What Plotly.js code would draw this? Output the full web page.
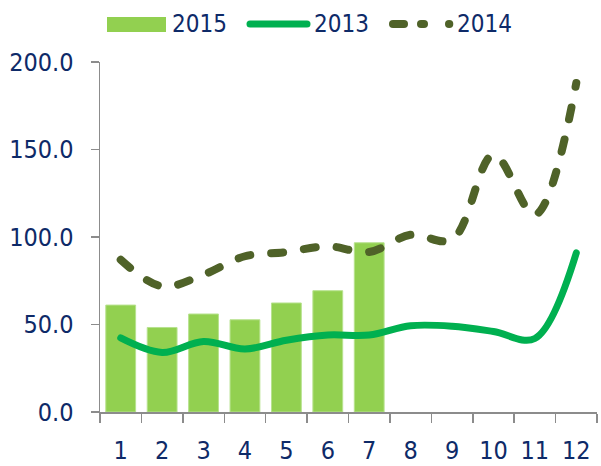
<!DOCTYPE html>
<html>
<head>
<meta charset="utf-8">
<script src="https://cdn.plot.ly/plotly-3.0.1.min.js"></script>
<style>
html,body{margin:0;padding:0;background:#fff;}
#chart{width:601px;height:466px;}
.js-line{stroke-linecap:round;}
.shapelayer path{stroke-linecap:round;}
</style>
</head>
<body>
<div id="chart"></div>
<script>
const months = ['1','2','3','4','5','6','7','8','9','10','11','12'];
const months2015 = ['1','2','3','4','5','6','7'];
const v2015 = [61.1, 48.3, 56.0, 52.7, 62.3, 69.3, 96.7];
const v2013 = [42.3, 34.0, 40.3, 36.0, 41.0, 44.0, 44.0, 49.3, 49.0, 46.0, 42.0, 90.9];
const v2014 = [87.0, 71.8, 78.5, 89.0, 91.4, 94.7, 91.4, 101.3, 98.5, 147.0, 112.7, 188.0];
const yTicks = [0, 50, 100, 150, 200];
const yTickText = ['0.0', '50.0', '100.0', '150.0', '200.0'];

const C2015 = '#92D050', C2013 = '#00B050', C2014 = '#4F6228';
const TXT = '#0E2A68';
const FONT = '"DejaVu Sans Condensed", "DejaVu Sans", sans-serif';

const W = 601, H = 466;
const M = {l: 100, r: 4, t: 62, b: 54};
const pw = W - M.l - M.r, ph = H - M.t - M.b;
const px = x => (x - M.l) / pw;
const py = y => (H - M.b - y) / ph;

const traces = [
  {type: 'bar', name: '2015', x: months2015, y: v2015, marker: {color: C2015, line: {color: '#B7E28E', width: 1}}, showlegend: false, hoverinfo: 'x+y'},
  {type: 'scatter', mode: 'lines', name: '2013', x: months, y: v2013, line: {color: C2013, width: 7, shape: 'spline', smoothing: 1}, showlegend: false},
  {type: 'scatter', mode: 'lines', name: '2014', x: months, y: v2014, line: {color: C2014, width: 8, shape: 'spline', smoothing: 1, dash: '12px,21px'}, showlegend: false}
];

const LY = 24;
const shapes = [
  {type: 'rect', xref: 'paper', yref: 'paper', x0: px(107), x1: px(166), y0: py(32), y1: py(17), fillcolor: C2015, line: {width: 0}},
  {type: 'line', xref: 'paper', yref: 'paper', x0: px(250), x1: px(307), y0: py(LY), y1: py(LY), line: {color: C2013, width: 7}},
  {type: 'line', xref: 'paper', yref: 'paper', x0: px(393), x1: px(404), y0: py(LY), y1: py(LY), line: {color: C2014, width: 8}},
  {type: 'line', xref: 'paper', yref: 'paper', x0: px(421), x1: px(424), y0: py(LY), y1: py(LY), line: {color: C2014, width: 8}},
  {type: 'line', xref: 'paper', yref: 'paper', x0: px(449), x1: px(449.3), y0: py(LY), y1: py(LY), line: {color: C2014, width: 8}}
];

const legendNames = ['2015', '2013', '2014'];
const legendX = [171, 313, 456];
const annotations = legendNames.map((t, i) => ({
  xref: 'paper', yref: 'paper', x: px(legendX[i]), y: py(LY), xanchor: 'left', yanchor: 'middle',
  text: t, showarrow: false, font: {family: FONT, size: 24, color: TXT}, borderpad: 0
}));

const layout = {
  width: W, height: H,
  margin: M,
  paper_bgcolor: '#fff', plot_bgcolor: '#fff',
  showlegend: false,
  bargap: 0.28,
  font: {family: FONT, color: TXT, size: 25},
  xaxis: {
    type: 'category', range: [-0.5, 11.5], tickson: 'boundaries',
    ticks: 'outside', ticklen: 9, tickwidth: 1.5, tickcolor: '#8C8C8C',
    showline: true, linecolor: '#8C8C8C', linewidth: 1.5,
    showgrid: false, zeroline: false,
    tickfont: {family: FONT, size: 25, color: TXT},
    ticklabelstandoff: 15
  },
  yaxis: {
    range: [0, 200], tickvals: yTicks, ticktext: yTickText,
    ticks: 'outside', ticklen: 8, tickwidth: 1.5, tickcolor: '#8C8C8C',
    showline: true, linecolor: '#8C8C8C', linewidth: 1.5,
    showgrid: false, zeroline: false,
    tickfont: {family: FONT, size: 25, color: TXT},
    ticklabelstandoff: 12
  },
  shapes: shapes,
  annotations: annotations
};

Plotly.newPlot('chart', traces, layout, {displayModeBar: false, staticPlot: true});
</script>
</body>
</html>
